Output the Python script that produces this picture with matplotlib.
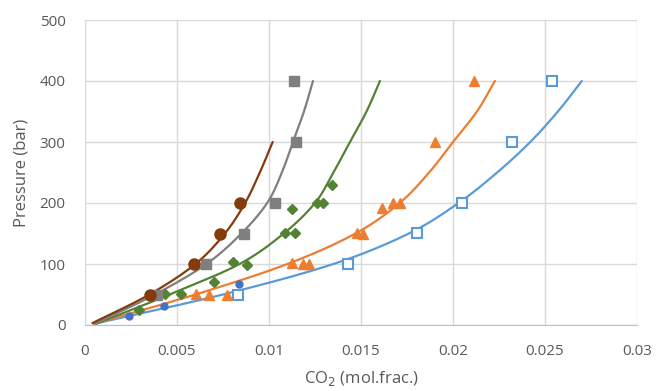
import numpy as np
import matplotlib.pyplot as plt

plt.rcParams['font.family'] = ['Open Sans', 'DejaVu Sans']

# measured points: CO2 mole fraction vs pressure (bar)
brown_x = [0.00353, 0.00592, 0.00734, 0.00842]
brown_p = [50, 100, 150, 200]
gray_x = [0.0039, 0.00658, 0.00864, 0.01033, 0.01147, 0.01136]
gray_p = [50, 100, 150, 200, 300, 400]
green_x = [0.00293, 0.00435, 0.00522, 0.00701, 0.00804, 0.0088, 0.01087, 0.01141,
           0.01125, 0.0126, 0.01293, 0.01342]
green_p = [25, 51, 51, 70, 103, 98, 151, 151, 190, 200, 200, 230]
orange_x = [0.00603, 0.00674, 0.00772, 0.01125, 0.01185, 0.01217, 0.01478, 0.01511,
            0.01614, 0.01674, 0.01712, 0.01902, 0.02114]
orange_p = [51, 49, 50, 102, 100, 100, 151, 149, 192, 200, 200, 300, 400]
blue_x = [0.00832, 0.01429, 0.01804, 0.02049, 0.02321, 0.02538]
blue_p = [50, 100, 151, 200, 300, 400]
dot_x = [0.00239, 0.00429, 0.00837]
dot_p = [15, 31, 67]

# model curves
brown_line_x = [0.0004, 0.0035, 0.0060, 0.0076, 0.0087, 0.0095, 0.0102]
brown_line_p = [3, 50, 100, 150, 200, 250, 300]
gray_line_x = [0.0006, 0.0038, 0.0066, 0.0085, 0.0099, 0.0107, 0.0113, 0.01190, 0.01239]
gray_line_p = [3, 50, 100, 150, 200, 250, 300, 350, 400]
green_line_x = [0.0006, 0.0046, 0.0084, 0.0108, 0.0125, 0.0135, 0.0144, 0.0153, 0.01603]
green_line_p = [2, 50, 100, 150, 200, 250, 300, 350, 400]
orange_line_x = [0.0005, 0.0060, 0.0110, 0.0147, 0.0171, 0.0187, 0.0200, 0.0213, 0.02228]
orange_line_p = [2, 50, 100, 150, 200, 250, 300, 350, 400]
blue_line_x = [0.0005, 0.0075, 0.0135, 0.0176, 0.0203, 0.0224, 0.0242, 0.0257, 0.0270]
blue_line_p = [2, 50, 100, 150, 200, 250, 300, 350, 400]

c_brown = '#843C0C'
c_gray = '#7F7F7F'
c_green = '#548235'
c_orange = '#ED7D31'
c_blue = '#5B9BD5'
c_dot = '#4472C4'


def smooth(xs, ps, n=20):
    # Catmull-Rom through the curve points, done in axis-fraction units
    pts = np.column_stack([np.array(xs) / 0.03, np.array(ps) / 500.0])
    pts = np.vstack([2 * pts[0] - pts[1], pts, 2 * pts[-1] - pts[-2]])
    out = []
    t = np.linspace(0, 1, n, endpoint=False)[:, None]
    for i in range(1, len(pts) - 2):
        p0, p1, p2, p3 = pts[i - 1], pts[i], pts[i + 1], pts[i + 2]
        seg = 0.5 * ((2 * p1) + (-p0 + p2) * t + (2 * p0 - 5 * p1 + 4 * p2 - p3) * t ** 2
                     + (-p0 + 3 * p1 - 3 * p2 + p3) * t ** 3)
        out.append(seg)
    out.append(pts[-2][None, :])
    out = np.vstack(out)
    return out[:, 0] * 0.03, out[:, 1] * 500.0


fig = plt.figure(figsize=(6.58, 3.91), dpi=100)
ax = fig.add_axes([85/658, 1-325/391, 552/658, 305/391])

lw = 1.6
for lx, lp, c in [(blue_line_x, blue_line_p, c_blue),
                  (orange_line_x, orange_line_p, c_orange),
                  (green_line_x, green_line_p, c_green),
                  (gray_line_x, gray_line_p, c_gray),
                  (brown_line_x, brown_line_p, c_brown)]:
    sx, sp = smooth(lx, lp)
    ax.plot(sx, sp, color=c, lw=lw, zorder=2, solid_capstyle='round')

ax.plot(blue_x, blue_p, 's', ms=7, mfc='white', mec=c_blue, mew=1.5, ls='none', zorder=3)
ax.plot(orange_x, orange_p, '^', ms=7.5, color=c_orange, ls='none', zorder=3)
ax.plot(green_x, green_p, 'D', ms=5.5, color=c_green, ls='none', zorder=3)
ax.plot(gray_x, gray_p, 's', ms=7, color=c_gray, ls='none', zorder=3)
ax.plot(brown_x, brown_p, 'o', ms=8, color=c_brown, ls='none', zorder=3)
ax.plot(dot_x, dot_p, 'o', ms=5, color=c_dot, ls='none', zorder=3)

ax.set_xlim(0, 0.03)
ax.set_ylim(0, 500)
ax.set_xticks([0, 0.005, 0.01, 0.015, 0.02, 0.025, 0.03])
ax.set_xticklabels(['0', '0.005', '0.01', '0.015', '0.02', '0.025', '0.03'])
ax.set_yticks([0, 100, 200, 300, 400, 500])
ax.grid(True, color='#D9D9D9', lw=1)
ax.set_axisbelow(True)
for s in ['top', 'right', 'left']:
    ax.spines[s].set_visible(False)
ax.spines['bottom'].set_color('#BFBFBF')
ax.tick_params(length=0, labelsize=11, colors='#595959', pad=14)
ax.set_xlabel('CO$_2$ (mol.frac.)', fontsize=12, color='#595959', labelpad=7)
ax.set_ylabel('Pressure (bar)', fontsize=12, color='#595959', labelpad=7)

fig.savefig('out.png', dpi=100)
